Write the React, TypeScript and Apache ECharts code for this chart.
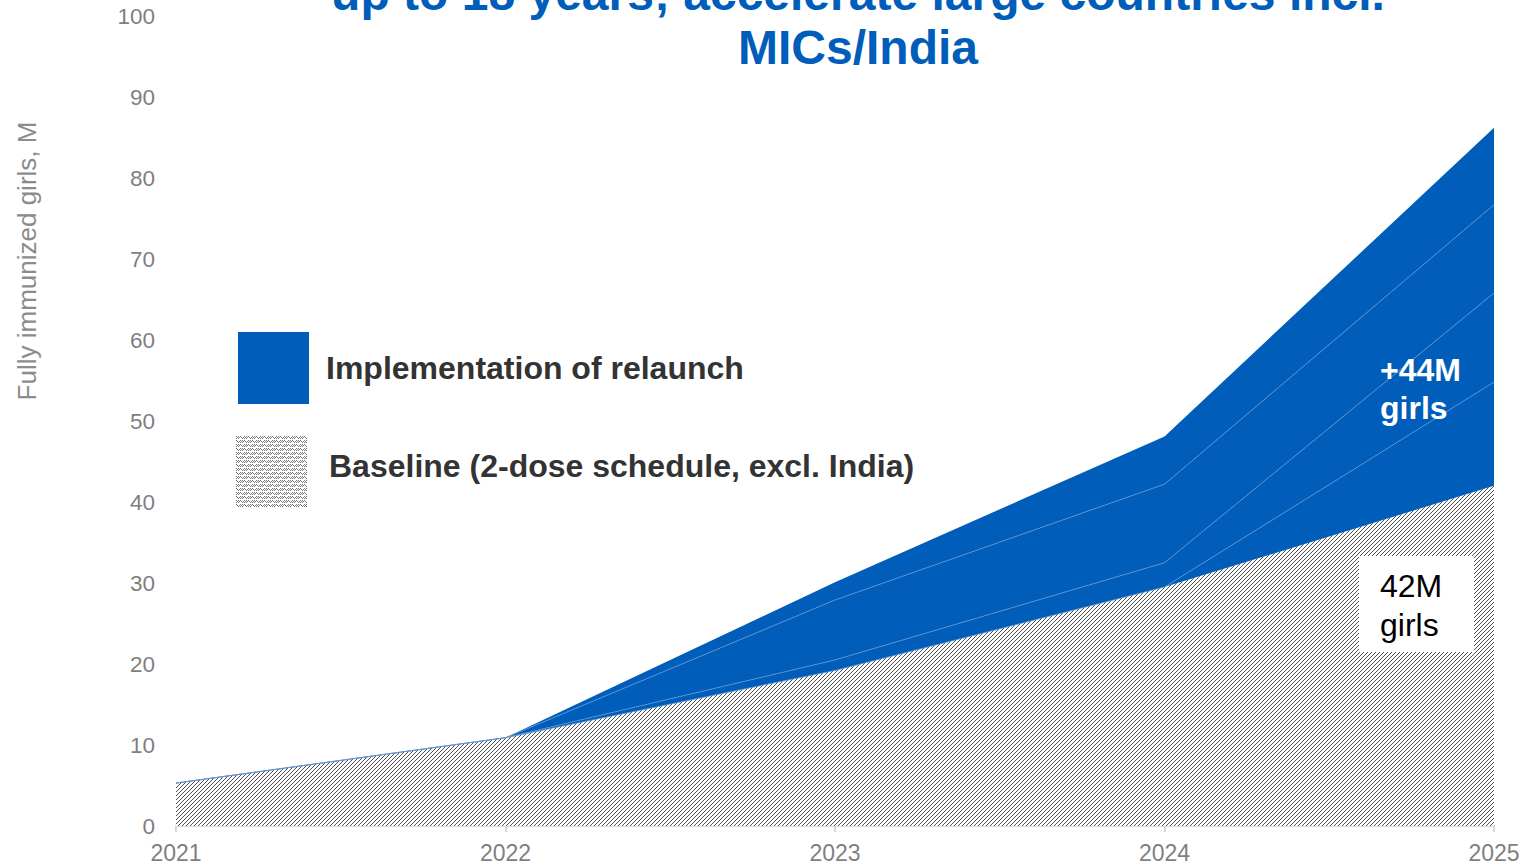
import React, { useEffect, useRef } from "react";
import * as echarts from "echarts";

const years = ["2021", "2022", "2023", "2024", "2025"];
const baseline = [5.3, 10.9, 19.2, 29.5, 42.0];
const relaunch1 = [0, 0, 0, 0, 12.8];
const relaunch2 = [0, 0, 1.3, 3.0, 11.0];
const relaunch3 = [0, 0, 7.4, 9.7, 10.9];
const relaunch4 = [0, 0, 2.2, 5.9, 9.5];

const titleLines = ["up to 18 years; accelerate large countries incl.", "MICs/India"];
const yAxisTitle = "Fully immunized girls, M";
const legendRelaunch = "Implementation of relaunch";
const legendBaseline = "Baseline (2-dose schedule, excl. India)";
const relaunchNote = "+44M\ngirls";
const baselineNote = "42M\ngirls";

const BLUE = "#005DB9";
const FONT = "'Liberation Sans', Arial, sans-serif";

function hatchCanvas(): HTMLCanvasElement {
  const c = document.createElement("canvas");
  c.width = 4;
  c.height = 4;
  const ctx = c.getContext("2d")!;
  ctx.fillStyle = "#ffffff";
  ctx.fillRect(0, 0, 4, 4);
  ctx.fillStyle = "#4f4f4f";
  ctx.fillRect(3, 0, 1, 1);
  ctx.fillRect(2, 1, 1, 1);
  ctx.fillRect(1, 2, 1, 1);
  ctx.fillRect(0, 3, 1, 1);
  return c;
}

function weaveCanvas(): HTMLCanvasElement {
  const c = document.createElement("canvas");
  c.width = 8;
  c.height = 8;
  const ctx = c.getContext("2d")!;
  ctx.fillStyle = "#ffffff";
  ctx.fillRect(0, 0, 8, 8);
  ctx.fillStyle = "#7a7a7a";
  const pts = [
    [0, 0], [1, 1], [2, 2], [3, 1], [4, 0], [5, 1], [6, 2], [7, 1],
    [0, 4], [1, 5], [2, 6], [3, 5], [4, 4], [5, 5], [6, 6], [7, 5],
    [2, 0], [6, 4], [0, 2], [4, 6],
  ];
  pts.forEach(([x, y]) => ctx.fillRect(x, y, 1, 1));
  return c;
}

export default function App() {
  const ref = useRef<HTMLDivElement>(null);

  useEffect(() => {
    if (!ref.current) return;
    const chart = echarts.init(ref.current, undefined, { renderer: "svg" });
    const hatch = { image: hatchCanvas(), repeat: "repeat" } as any;
    const weave = { image: weaveCanvas(), repeat: "repeat" } as any;

    const layer = (name: string, data: number[], showLine: boolean) => ({
      name,
      type: "line",
      stack: "total",
      data,
      symbol: "none",
      lineStyle: { width: showLine ? 0.8 : 0, color: "#5F95D3" },
      areaStyle: { color: BLUE, opacity: 1 },
      z: 3,
    });

    chart.setOption({
      animation: false,
      grid: { left: 176, right: 40, top: 16, bottom: 40, containLabel: false },
      xAxis: {
        type: "category",
        data: years,
        boundaryGap: false,
        axisLine: { show: true, lineStyle: { color: "#d9d9d9", width: 2 } },
        axisTick: { show: true, length: 6, lineStyle: { color: "#d9d9d9", width: 2 } },
        axisLabel: { color: "#7f7f7f", fontSize: 23, fontFamily: FONT, margin: 15 },
        splitLine: { show: false },
      },
      yAxis: {
        type: "value",
        min: 0,
        max: 100,
        interval: 10,
        axisLine: { show: false },
        axisTick: { show: false },
        splitLine: { show: false },
        axisLabel: { color: "#7f7f7f", fontSize: 22.5, fontFamily: FONT, margin: 21 },
      },
      series: [
        {
          name: legendBaseline,
          type: "line",
          stack: "total",
          data: baseline,
          symbol: "none",
          lineStyle: { width: 0 },
          areaStyle: { color: hatch, opacity: 1 },
          z: 2,
        },
        layer("Relaunch 1", relaunch1, true),
        layer("Relaunch 2", relaunch2, true),
        layer("Relaunch 3", relaunch3, true),
        layer("Relaunch 4", relaunch4, false),
      ],
      graphic: [
        {
          type: "text",
          x: 858,
          y: 20,
          z: 10,
          style: {
            text: titleLines.join("\n"),
            font: `bold 48px ${FONT}`,
            fill: BLUE,
            align: "center",
            verticalAlign: "middle",
            lineHeight: 54,
          },
        },
        {
          type: "text",
          x: 27,
          y: 261,
          rotation: Math.PI / 2,
          style: {
            text: yAxisTitle,
            font: `26px ${FONT}`,
            fill: "#8c8c8c",
            align: "center",
            verticalAlign: "middle",
          },
        },
        {
          type: "rect",
          shape: { x: 238, y: 332, width: 71, height: 72 },
          style: { fill: BLUE },
        },
        {
          type: "text",
          x: 326,
          y: 368,
          style: {
            text: legendRelaunch,
            font: `bold 32px ${FONT}`,
            fill: "#333333",
            align: "left",
            verticalAlign: "middle",
          },
        },
        {
          type: "rect",
          shape: { x: 236, y: 436, width: 71, height: 72 },
          style: { fill: weave },
        },
        {
          type: "text",
          x: 329,
          y: 466,
          style: {
            text: legendBaseline,
            font: `bold 32px ${FONT}`,
            fill: "#333333",
            align: "left",
            verticalAlign: "middle",
          },
        },
        {
          type: "text",
          x: 1380,
          y: 389,
          z: 10,
          style: {
            text: relaunchNote,
            font: `bold 32px ${FONT}`,
            fill: "#ffffff",
            align: "left",
            verticalAlign: "middle",
            lineHeight: 38,
          },
        },
        {
          type: "rect",
          z: 10,
          shape: { x: 1359, y: 556, width: 115, height: 96 },
          style: { fill: "#ffffff" },
        },
        {
          type: "text",
          x: 1380,
          y: 605,
          z: 11,
          style: {
            text: baselineNote,
            font: `32px ${FONT}`,
            fill: "#000000",
            align: "left",
            verticalAlign: "middle",
            lineHeight: 39,
          },
        },
      ],
    });
    return () => chart.dispose();
  }, []);

  return (
    <div
      ref={ref}
      style={{ position: "fixed", left: 0, top: 0, width: 1534, height: 866, background: "#fff" }}
    />
  );
}
